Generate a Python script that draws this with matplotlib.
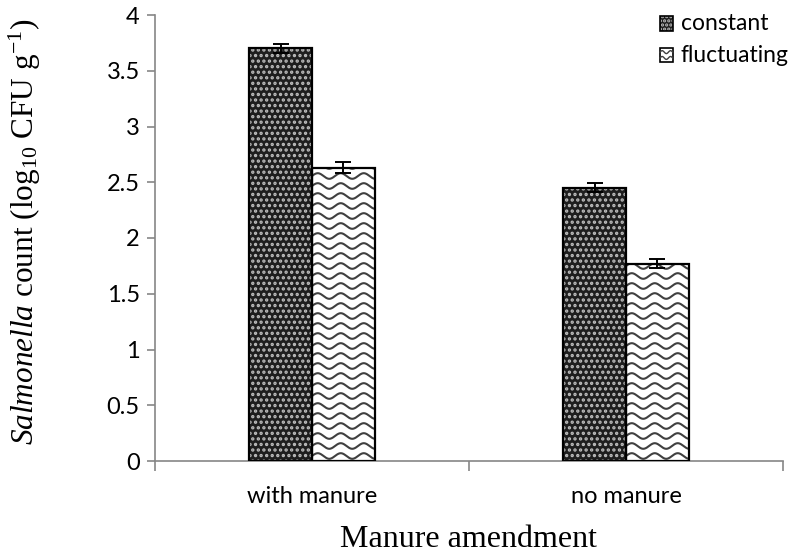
import numpy as np
import matplotlib
matplotlib.use("Agg")
import matplotlib.pyplot as plt
from matplotlib.patches import Rectangle
from matplotlib.lines import Line2D
from matplotlib.legend_handler import HandlerBase

# data
categories = ["with manure", "no manure"]
series = ["constant", "fluctuating"]
constant_vals = [3.70, 2.45]
constant_err = [0.04, 0.04]
fluct_vals = [2.63, 1.77]
fluct_err = [0.05, 0.04]

plt.rcParams["mathtext.fontset"] = "custom"
plt.rcParams["mathtext.rm"] = "Liberation Serif"
plt.rcParams["mathtext.it"] = "Liberation Serif:italic"
plt.rcParams["hatch.linewidth"] = 1.6

W, H = 799, 555
fig = plt.figure(figsize=(W / 100, H / 100), dpi=100)
ax = fig.add_axes([155 / W, (H - 461) / H, (783 - 155) / W, (461 - 15) / H])

ax.set_xlim(-0.5, 1.5)
ax.set_ylim(0, 4)

x = np.arange(len(categories))
bw = 0.2
dark = "#1e1e1e"
dotc = "#bdbdbd"
axis_gray = "#868686"
tick_font = {"family": "Lato", "size": 17}

# pixel -> data helpers (axes fixed in pixels)
px_x = 2.0 / (783 - 155)
px_y = 4.0 / (461 - 15)


def dotted_bar(xc, h):
    ax.bar(xc, h, bw, color=dark, edgecolor=dotc, hatch="...", linewidth=0, zorder=2)
    ax.bar(xc, h, bw, facecolor="none", edgecolor="black", linewidth=1.6, zorder=4)


def wavy_bar(xc, h):
    ax.bar(xc, h, bw, color="white", linewidth=0, zorder=2)
    ax.bar(xc, h, bw, facecolor="none", edgecolor="black", linewidth=1.6, zorder=4)
    clip = Rectangle((xc - bw / 2, 0), bw, h, transform=ax.transData)
    xs = np.linspace(xc - bw / 2, xc + bw / 2, 200)
    period = 23 * px_x
    amp = 2.8 * px_y
    step = 10 * px_y
    yb = 5 * px_y
    while yb < h + step:
        ys = yb + amp * np.sin(2 * np.pi * (xs - (xc - bw / 2)) / period)
        ln, = ax.plot(xs, ys, color="#404040", lw=1.5, zorder=3)
        ln.set_clip_path(clip)
        yb += step


for i in range(len(categories)):
    dotted_bar(x[i] - bw / 2, constant_vals[i])
    wavy_bar(x[i] + bw / 2, fluct_vals[i])

ax.errorbar(x - bw / 2, constant_vals, yerr=constant_err, fmt="none", ecolor="black",
            elinewidth=1.4, capsize=6, capthick=1.4, zorder=5)
ax.errorbar(x + bw / 2, fluct_vals, yerr=fluct_err, fmt="none", ecolor="black",
            elinewidth=1.4, capsize=6, capthick=1.4, zorder=5)

# axes styling
for s in ["top", "right"]:
    ax.spines[s].set_visible(False)
for s in ["left", "bottom"]:
    ax.spines[s].set_color(axis_gray)
    ax.spines[s].set_linewidth(1.2)

ax.set_yticks(np.arange(0, 4.01, 0.5))
ax.set_yticklabels(["0", "0.5", "1", "1.5", "2", "2.5", "3", "3.5", "4"])
ax.tick_params(axis="y", direction="out", length=6, width=1.2, color=axis_gray, pad=5)
ax.set_xticks(x)
ax.set_xticklabels(categories)
ax.set_xticks([-0.5, 0.5, 1.5], minor=True)
ax.tick_params(axis="x", which="major", length=0, pad=18)
ax.tick_params(axis="x", which="minor", direction="out", length=7, width=1.2, color=axis_gray)
for lab in ax.get_xticklabels() + ax.get_yticklabels():
    lab.set_fontproperties(tick_font)

ax.set_ylabel(r"$\it{Salmonella}$ count (log$_{10}$ CFU g$^{-1}$)",
              family="Liberation Serif", fontsize=22.5)
ax.yaxis.set_label_coords(-112 / (783 - 155), (461 - 232) / (461 - 15))
ax.set_xlabel("Manure amendment", family="Liberation Serif", fontsize=23)
ax.xaxis.set_label_coords(0.5, -(525 - 461) / (461 - 15))
ax.xaxis.label.set_va("top")


# legend with custom swatches
class DotHandler(HandlerBase):
    def create_artists(self, legend, orig, xd, yd, width, height, fontsize, trans):
        r = Rectangle((xd, yd), width, height, facecolor=dark, edgecolor=dotc,
                      hatch="....", lw=0, transform=trans)
        f = Rectangle((xd, yd), width, height, facecolor="none", edgecolor="black",
                      lw=1.2, transform=trans)
        return [r, f]


class WaveHandler(HandlerBase):
    def create_artists(self, legend, orig, xd, yd, width, height, fontsize, trans):
        r = Rectangle((xd, yd), width, height, facecolor="white", edgecolor="black",
                      lw=1.2, transform=trans)
        arts = [r]
        xs = np.linspace(xd, xd + width, 30)
        for frac in (0.3, 0.7):
            ys = yd + frac * height + 0.1 * height * np.sin(2 * np.pi * (xs - xd) / (width / 1.5))
            arts.append(Line2D(xs, ys, color="#404040", lw=1.0, transform=trans))
        return arts


h1 = Rectangle((0, 0), 1, 1)
h2 = Rectangle((0, 0), 1, 1)
leg = ax.legend([h1, h2], series, handler_map={h1: DotHandler(), h2: WaveHandler()},
                loc="upper left", bbox_to_anchor=((644 - 155) / (783 - 155), 1.04),
                frameon=False, handlelength=0.55, handleheight=0.6, handletextpad=0.35,
                labelspacing=0.45, borderpad=0.2, prop={"family": "Lato", "size": 16.5})

fig.savefig("out.png", dpi=100)
